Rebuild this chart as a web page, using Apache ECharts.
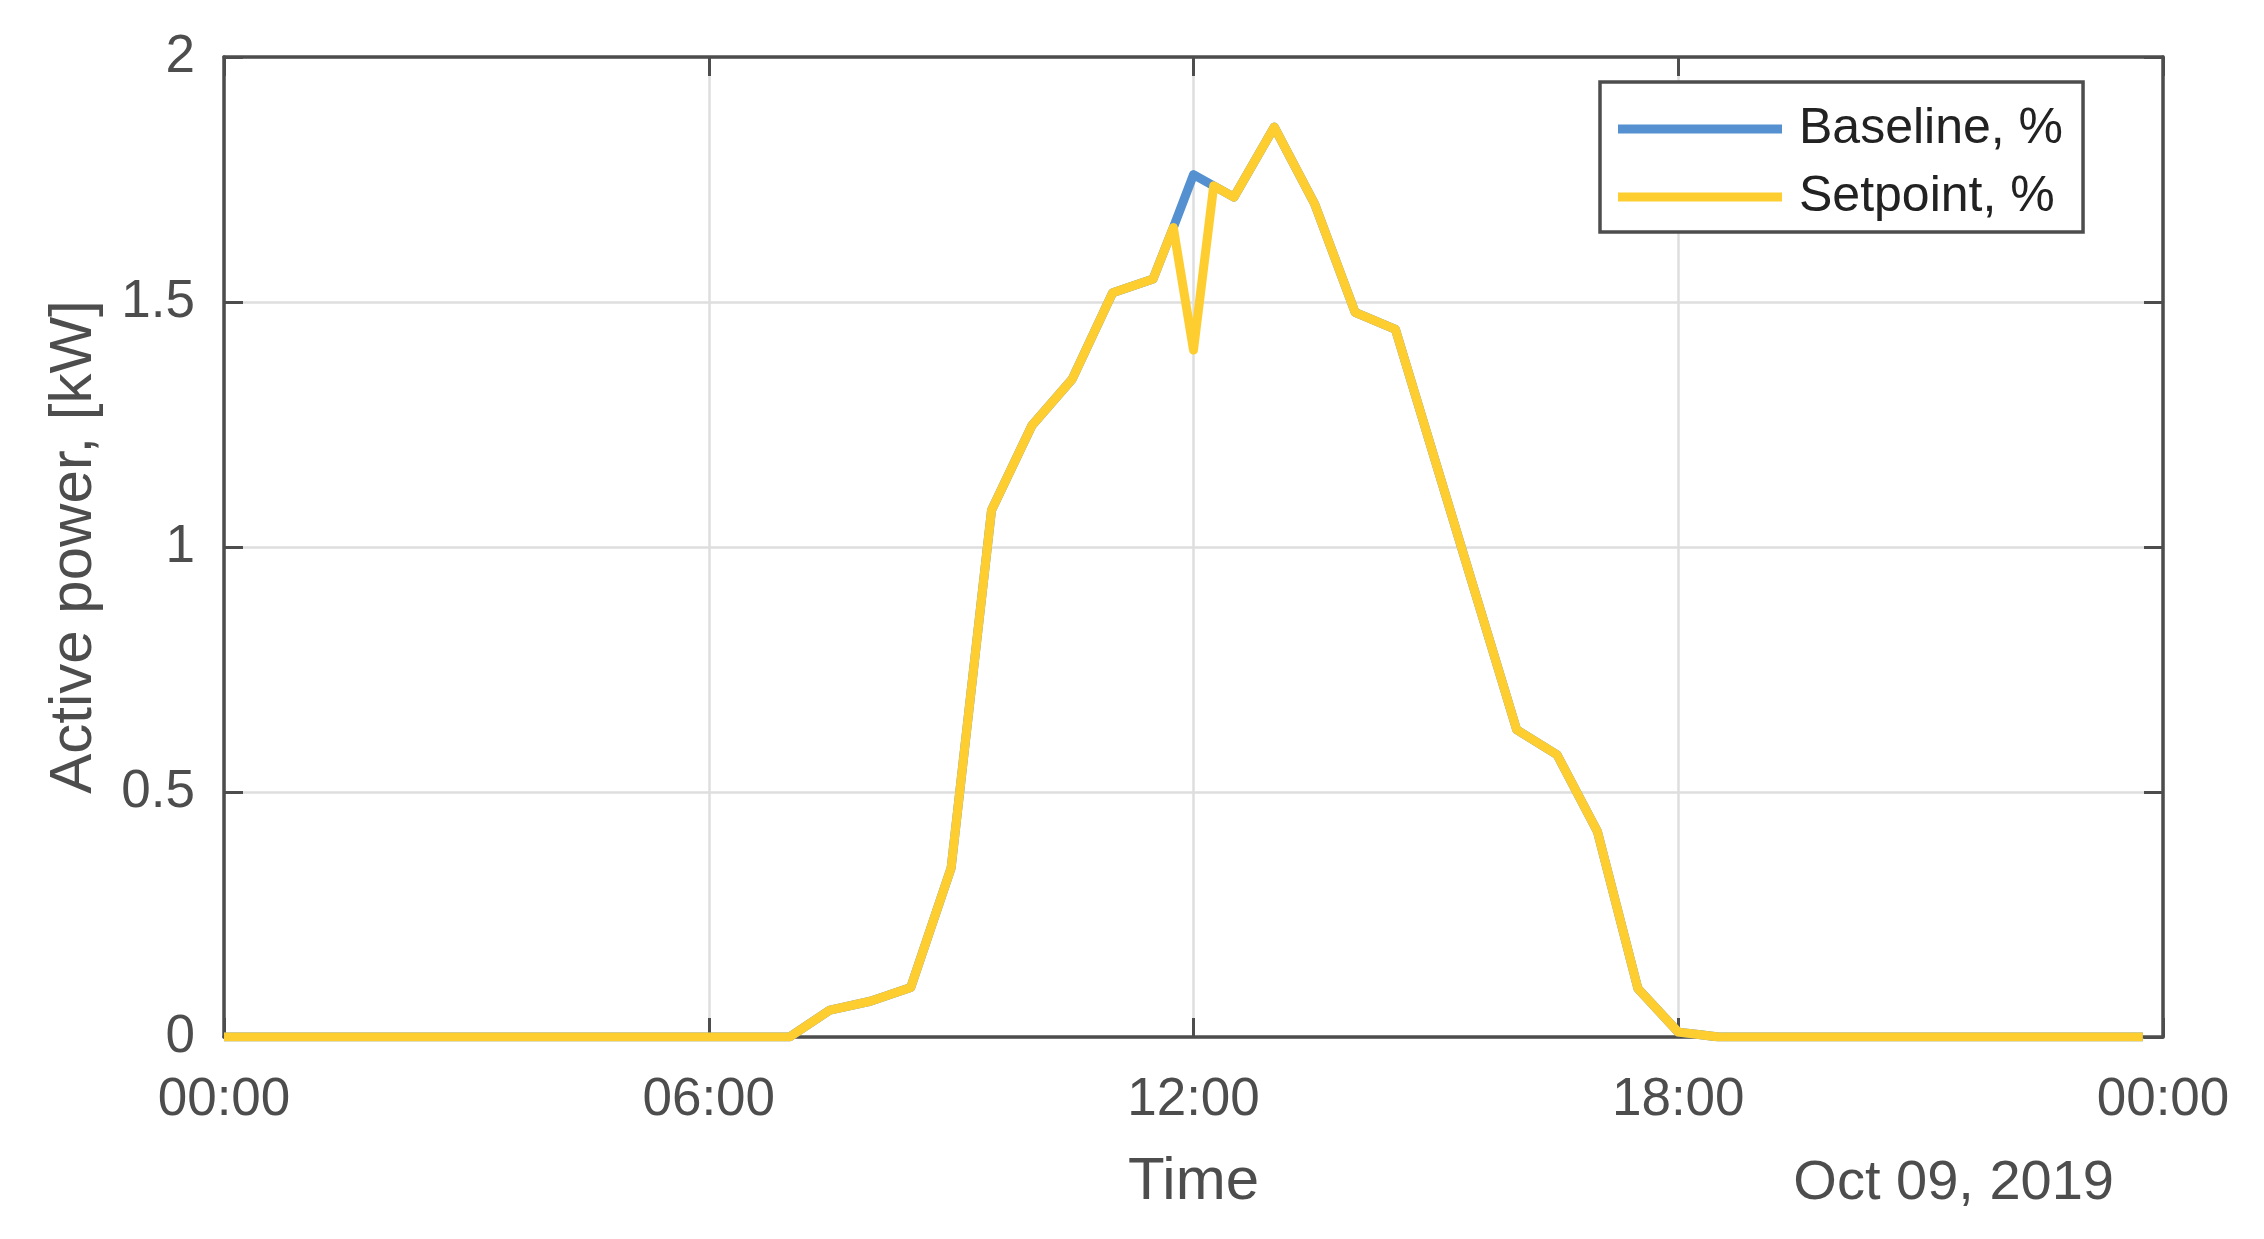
<!DOCTYPE html>
<html>
<head>
<meta charset="utf-8">
<script src="https://cdn.jsdelivr.net/npm/echarts@6/dist/echarts.min.js"></script>
<style>
  html, body { margin: 0; padding: 0; background: #fff; }
  #chart { width: 2264px; height: 1239px; }
</style>
</head>
<body>
<div id="chart"></div>
<script>
// Sample times (Oct 09, 2019) where the trace changes slope
const times = ['00:00', '07:00', '07:30', '08:00', '08:30', '09:00', '09:30', '10:00',
    '10:30', '11:00', '11:30', '11:45', '12:00', '12:15', '12:30', '13:00', '13:30',
    '14:00', '14:30', '16:00', '16:30', '17:00', '17:30', '18:00', '18:15', '18:30', '23:45'];

// Active power, kW
const setpoint = [0, 0, 0.055, 0.073, 0.101, 0.345, 1.075, 1.248,
    1.343, 1.519, 1.547, 1.652, 1.402, 1.737, 1.714, 1.857, 1.700,
    1.479, 1.444, 0.627, 0.576, 0.419, 0.099, 0.010, 0.005, 0, 0];
const baseline = [0, 0, 0.055, 0.073, 0.101, 0.345, 1.075, 1.248,
    1.343, 1.519, 1.547, 1.652, 1.760, 1.737, 1.714, 1.857, 1.700,
    1.479, 1.444, 0.627, 0.576, 0.419, 0.099, 0.010, 0.005, 0, 0];

const xTicks = [0, 6, 12, 18, 24];
const yTicks = [0, 0.5, 1, 1.5, 2];

const textColor = '#4d4d4d';
const font = 'Liberation Sans, Arial, Helvetica, sans-serif';

const toHours = (t) => {
    const [h, m] = t.split(':').map(Number);
    return h + m / 60;
};
const pairs = (vals) => times.map((t, i) => [toHours(t), vals[i]]);

const chart = echarts.init(document.getElementById('chart'));

// axis line + inward ticks, shared by all four sides of the box
const axisLine = { show: true, onZero: false, lineStyle: { color: textColor, width: 3.5 } };
const axisTick = { show: true, inside: true, length: 19, lineStyle: { color: textColor, width: 3 } };

const option = {
    animation: false,
    backgroundColor: '#fff',
    grid: { left: 224, right: 101, top: 57, bottom: 202, containLabel: false },
    legend: {
        left: 1600,
        top: 82,
        orient: 'vertical',
        icon: 'rect',
        itemWidth: 164,
        itemHeight: 9,
        itemGap: 10,
        padding: [18, 20, 6, 18],
        borderColor: textColor,
        borderWidth: 3.5,
        backgroundColor: '#fff',
        textStyle: { fontFamily: font, fontSize: 50, color: '#222', lineHeight: 58, padding: [0, 0, 0, 12] },
        data: ['Baseline, %', 'Setpoint, %']
    },
    xAxis: [{
        type: 'value',
        min: xTicks[0],
        max: xTicks[xTicks.length - 1],
        interval: 6,
        name: 'Time',
        nameLocation: 'middle',
        nameGap: 115,
        nameTextStyle: { fontFamily: font, fontSize: 60, color: textColor },
        axisLine: axisLine,
        axisTick: axisTick,
        axisLabel: {
            fontFamily: font, fontSize: 53, color: textColor, margin: 37,
            formatter: (v) => String(v % 24).padStart(2, '0') + ':00'
        },
        splitLine: { show: true, lineStyle: { color: '#dedede', width: 2.5 } }
    }, {
        type: 'value',
        position: 'top',
        min: xTicks[0],
        max: xTicks[xTicks.length - 1],
        interval: 6,
        axisLine: axisLine,
        axisTick: axisTick,
        axisLabel: { show: false },
        splitLine: { show: false }
    }],
    yAxis: [{
        type: 'value',
        min: yTicks[0],
        max: yTicks[yTicks.length - 1],
        interval: 0.5,
        name: 'Active power, [kW]',
        nameLocation: 'middle',
        nameGap: 120,
        nameTextStyle: { fontFamily: font, fontSize: 60, color: textColor },
        axisLine: axisLine,
        axisTick: axisTick,
        axisLabel: { fontFamily: font, fontSize: 53, color: textColor, margin: 29 },
        splitLine: { show: true, lineStyle: { color: '#dedede', width: 2.5 } }
    }, {
        type: 'value',
        position: 'right',
        min: yTicks[0],
        max: yTicks[yTicks.length - 1],
        interval: 0.5,
        axisLine: axisLine,
        axisTick: axisTick,
        axisLabel: { show: false },
        splitLine: { show: false }
    }],
    graphic: [{
        type: 'text',
        right: 150,
        top: 1156,
        style: { text: 'Oct 09, 2019', fontFamily: font, fontSize: 56, fill: textColor }
    }],
    series: [{
        name: 'Baseline, %',
        type: 'line',
        data: pairs(baseline),
        showSymbol: false,
        color: '#5591d0',
        lineStyle: { width: 9, color: '#5591d0', join: 'round' },
        z: 2
    }, {
        name: 'Setpoint, %',
        type: 'line',
        data: pairs(setpoint),
        showSymbol: false,
        color: '#fecd30',
        lineStyle: { width: 9, color: '#fecd30', join: 'round' },
        z: 3
    }]
};

chart.setOption(option);
</script>
</body>
</html>
